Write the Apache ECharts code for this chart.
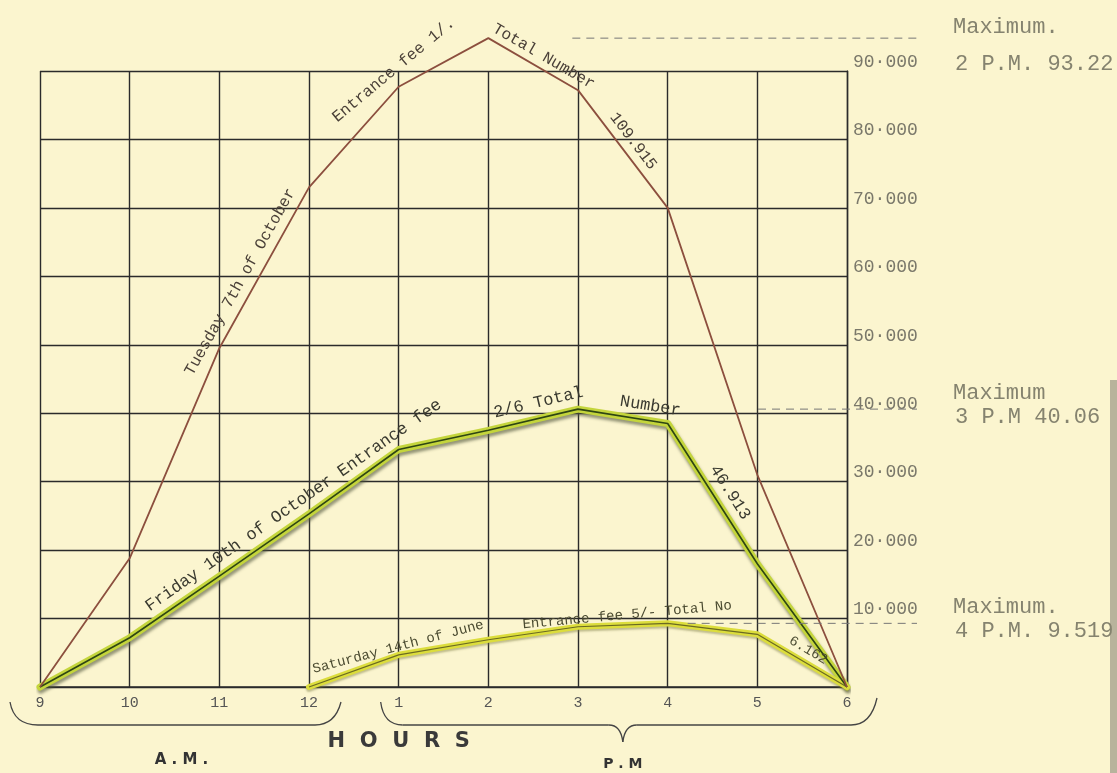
<!DOCTYPE html>
<html>
<head>
<meta charset="utf-8">
<title>Numbers in the building by hour</title>
<script src="https://cdn.jsdelivr.net/npm/echarts@6/dist/echarts.min.js"></script>
<style>
  html, body { margin: 0; padding: 0; background: #fbf5cf; }
  #chart { width: 1117px; height: 773px; }
</style>
</head>
<body>
<div id="chart"></div>
<script>
// hours of the day, 9 A.M. to 6 P.M.
var hours = ['9', '10', '11', '12', '1', '2', '3', '4', '5', '6'];

// visitors in the building at each hour
var tuesday = [0, 18800, 49500, 73000, 87700, 94800, 87200, 70000, 31000, 0];
var friday = [0, 7200, 16200, 25300, 34700, 37500, 40600, 38500, 18000, 0];
var saturday = [null, null, null, 0, 4700, 6900, 8800, 9300, 7700, 0];

// maximum notes on the right
var maxTitles = ['Maximum.', 'Maximum', 'Maximum.'];
var maxDetails = ['2 P.M. 93.22', '3 P.M 40.06', '4 P.M. 9.519'];
var maxIndex = [5, 6, 7];

// writing along the lines
var tuesdayNotes = [
  { from: 2, to: 3, t: 0.37, off: 6, text: 'Tuesday 7th of October' },
  { from: 3, to: 5, t: 0.6, off: 28, text: 'Entrance fee 1/.' },
  { from: 5, to: 6, t: 0.55, off: 4, text: 'Total Number' },
  { from: 6, to: 7, t: 0.5, off: 5, text: '109.915' }
];
var fridayNotes = [
  { from: 1, to: 4, t: 0.64, off: 6, text: 'Friday 10th of October Entrance fee' },
  { from: 5, to: 6, t: 0.6, off: 7, text: '2/6 Total' },
  { from: 6, to: 7, t: 0.78, off: 6, text: 'Number' },
  { from: 7, to: 8, t: 0.55, off: 7, text: '46.913' }
];
var saturdayNotes = [
  { from: 3, to: 5, t: 0.52, off: 9, text: 'Saturday 14th of June' },
  { from: 5, to: 7, t: 0.78, off: 5, text: 'Entrance fee 5/- Total No' },
  { from: 8, to: 9, t: 0.5, off: 5, text: '6.162' }
];

var ink = '#2b2b2b';
var mono = '"Liberation Mono", "DejaVu Sans Mono", monospace';

var chart = echarts.init(document.getElementById('chart'));

chart.setOption({
  backgroundColor: '#fbf5cf',
  animation: false,
  grid: { left: 40, right: 270, top: 71, bottom: 86 },
  xAxis: {
    type: 'category',
    data: hours,
    boundaryGap: false,
    axisTick: { show: false },
    axisLine: { lineStyle: { color: ink, width: 1.5 } },
    axisLabel: { color: '#555', fontFamily: mono, fontSize: 15, margin: 9 },
    splitLine: { show: true, lineStyle: { color: ink, width: 1.4 } }
  },
  yAxis: {
    type: 'value',
    position: 'right',
    min: 0,
    max: 90000,
    interval: 10000,
    axisTick: { show: false },
    axisLine: { show: true, lineStyle: { color: ink, width: 1.4 } },
    axisLabel: {
      color: '#7a786a',
      fontFamily: mono,
      fontSize: 18,
      margin: 6,
      verticalAlign: 'bottom',
      formatter: function (v) { return v === 0 ? '' : (v / 1000) + '\u00b7000'; }
    },
    splitLine: { show: true, lineStyle: { color: ink, width: 1.4 } }
  },
  series: [
    {
      name: 'Tuesday', type: 'line', data: tuesday, symbol: 'none', clip: false, z: 6,
      lineStyle: { color: '#8c4f3e', width: 1.8 }
    },
    {
      name: 'Friday band', type: 'line', data: friday, symbol: 'none', clip: false, z: 3,
      lineStyle: {
        color: '#c4d53c', width: 7, cap: 'round', join: 'round',
        shadowColor: 'rgba(80,85,60,0.6)', shadowBlur: 3, shadowOffsetY: 3, shadowOffsetX: 1
      }
    },
    {
      name: 'Friday', type: 'line', data: friday, symbol: 'none', clip: false, z: 4,
      lineStyle: { color: '#2e4513', width: 1.6 }
    },
    {
      name: 'Saturday band', type: 'line', data: saturday, symbol: 'none', clip: false, z: 3,
      lineStyle: {
        color: '#dcdd3c', width: 6, cap: 'round', join: 'round',
        shadowColor: 'rgba(120,120,60,0.45)', shadowBlur: 2, shadowOffsetY: 2
      }
    },
    {
      name: 'Saturday', type: 'line', data: saturday, symbol: 'none', clip: false, z: 4,
      lineStyle: { color: '#6b6a22', width: 1.2 }
    }
  ]
});

function pt(i, v) {
  return chart.convertToPixel({ gridIndex: 0 }, [i, v]);
}

function noteText(data, n, size, color) {
  var a = pt(n.from, data[n.from]);
  var b = pt(n.to, data[n.to]);
  var dx = b[0] - a[0], dy = b[1] - a[1];
  var len = Math.sqrt(dx * dx + dy * dy);
  return {
    type: 'text',
    x: a[0] + dx * n.t + dy / len * n.off,
    y: a[1] + dy * n.t - dx / len * n.off,
    rotation: -Math.atan2(dy, dx),
    z: 50,
    style: {
      text: n.text, font: size + 'px ' + mono, fill: color,
      textAlign: 'center', textVerticalAlign: 'bottom', align: 'center', verticalAlign: 'bottom'
    }
  };
}

function curve(x1, y1, cx, cy, x2, y2) {
  return {
    type: 'bezierCurve', z: 20,
    shape: { x1: x1, y1: y1, cpx1: cx, cpy1: cy, x2: x2, y2: y2 },
    style: { stroke: '#444', lineWidth: 1.3, fill: null }
  };
}
function seg(x1, y1, x2, y2) {
  return {
    type: 'line', z: 20,
    shape: { x1: x1, y1: y1, x2: x2, y2: y2 },
    style: { stroke: '#444', lineWidth: 1.3 }
  };
}
function label(text, x, y, font, color) {
  return {
    type: 'text', x: x, y: y, z: 20,
    style: { text: text, font: font, fill: color,
      align: 'center', verticalAlign: 'middle', textAlign: 'center', textVerticalAlign: 'middle' }
  };
}

var els = [];
tuesdayNotes.forEach(function (n) { els.push(noteText(tuesday, n, 16, '#4a4038')); });
fridayNotes.forEach(function (n) { els.push(noteText(friday, n, 17, '#3a3a30')); });
saturdayNotes.forEach(function (n) { els.push(noteText(saturday, n, 14, '#4a4a30')); });

// maximum marks, dashed out to the notes
var seriesFor = [tuesday, friday, saturday];
var dashStart = [84, 180, 20];
var right = pt(9, 0)[0];
maxIndex.forEach(function (idx, k) {
  var p = pt(idx, seriesFor[k][idx]);
  els.push({
    type: 'line', z: 20,
    shape: { x1: p[0] + dashStart[k], y1: p[1], x2: right + 70, y2: p[1] },
    style: { stroke: '#777', lineWidth: 1, lineDash: [8, 6] }
  });
  var yTitle = k === 0 ? p[1] - 11 : p[1] - 16;
  var yDetail = k === 0 ? p[1] + 26 : p[1] + 8;
  els.push({
    type: 'text', x: right + 106, y: yTitle, z: 20,
    style: { text: maxTitles[k], font: '22px ' + mono, fill: '#85836f', verticalAlign: 'middle', textVerticalAlign: 'middle' }
  });
  els.push({
    type: 'text', x: right + 108, y: yDetail, z: 20,
    style: { text: maxDetails[k], font: '22px ' + mono, fill: '#85836f', verticalAlign: 'middle', textVerticalAlign: 'middle' }
  });
});

// braces for A.M. and P.M.
var base = pt(0, 0)[1];
var yt = base + 15, yb = base + 38;
var a0 = pt(0, 0)[0] - 30, a1 = pt(3, 0)[0] + 32;
var p0 = pt(4, 0)[0] - 18, p1 = right + 30;
var pm = (pt(6, 0)[0] + pt(7, 0)[0]) / 2;

els.push(curve(a0, yt, a0 + 4, yb, a0 + 28, yb));
els.push(seg(a0 + 28, yb, a1 - 26, yb));
els.push(curve(a1 - 26, yb, a1 - 6, yb, a1, yt));

els.push(curve(p0, yt, p0 + 3, yb, p0 + 22, yb));
els.push(seg(p0 + 22, yb, pm - 14, yb));
els.push(curve(pm - 14, yb, pm - 2, yb, pm, yb + 17));
els.push(curve(pm, yb + 17, pm + 2, yb, pm + 14, yb));
els.push(seg(pm + 14, yb, p1 - 26, yb));
els.push(curve(p1 - 26, yb, p1 - 6, yb, p1, yt - 4));

els.push(label('H  O  U  R  S', pt(4, 0)[0], base + 55, 'bold 21px "DejaVu Sans", sans-serif', '#3a3a3a'));
els.push(label('A . M .', (pt(0, 0)[0] + pt(3, 0)[0]) / 2 + 7, base + 73, 'bold 15px "DejaVu Sans", sans-serif', '#333'));
els.push(label('P . M', pm, base + 77, 'bold 14px "DejaVu Sans", sans-serif', '#333'));

// page edge on the right
els.push({
  type: 'rect', z: 1,
  shape: { x: 1110, y: 380, width: 7, height: 393 },
  style: { fill: '#b8b39c' }
});

chart.setOption({ graphic: { elements: els } });
</script>
</body>
</html>
